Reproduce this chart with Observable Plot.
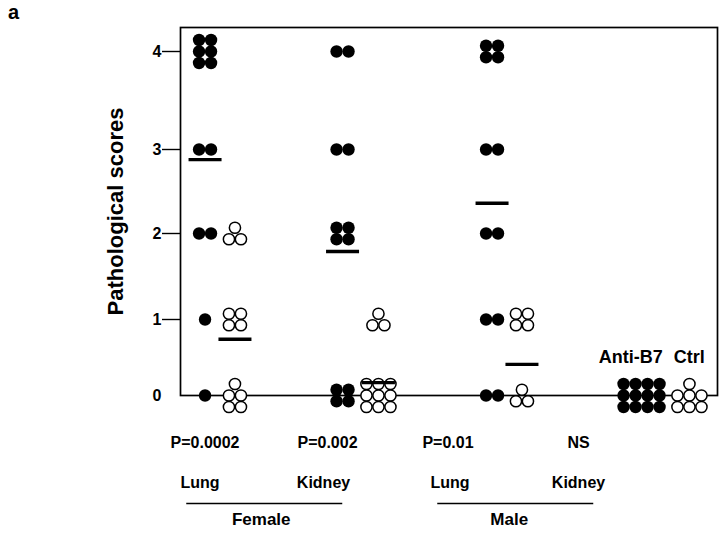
<!DOCTYPE html>
<html>
<head>
<meta charset="utf-8">
<script src="https://cdn.jsdelivr.net/npm/d3@7"></script>
<script src="https://cdn.jsdelivr.net/npm/@observablehq/plot@0.6"></script>
<style>
  html, body { margin: 0; padding: 0; background: #fff; }
  #chart { width: 720px; height: 534px; }
</style>
</head>
<body>
<div id="chart"></div>
<script>
// ---------- data ----------
const groups = ["Female Lung", "Female Kidney", "Male Lung", "Male Kidney"];
const scores = [0, 1, 2, 3, 4];
// number of animals at each score 0..4
const antiB7Counts = [
  [1, 1, 2, 2, 6],
  [4, 0, 4, 2, 2],
  [2, 2, 2, 2, 4],
  [12, 0, 0, 0, 0]
];
const ctrlCounts = [
  [5, 4, 3, 0, 0],
  [9, 3, 0, 0, 0],
  [3, 4, 0, 0, 0],
  [7, 0, 0, 0, 0]
];
// mean bars as drawn
const antiB7Means = [2.88, 1.79, 2.36, null];
const ctrlMeans = [0.74, 0.17, 0.41, null];
const pLabels = ["P=0.0002", "P=0.002", "P=0.01", "NS"];
const organLabels = ["Lung", "Kidney", "Lung", "Kidney"];
const sexLabels = ["Female", "Male"];
const treatmentLabels = ["Anti-B7", "Ctrl"];
const yTicks = [0, 1, 2, 3, 4];

// ---------- scale warps (the printed axis is slightly uneven) ----------
const yWarp = d3.scaleLinear().domain([0, 1, 2, 3, 4]).range([0, 76 / 86, 162 / 86, 246 / 86, 4]);
const xWarp = d3.scaleLinear().domain([0, 1, 2, 3]).range([0, 140.5 / 148.5, 287 / 148.5, 3]);

// ---------- layout helpers ----------
const sx = 12, sy = 11.5, gap = 5.5, rFill = 6.2, rOpen = 5.6;
const colsFor = n => n <= 6 ? 2 : n <= 9 ? 3 : 4;
function cells(n) {
  const c = colsFor(n);
  const rows = Math.ceil(n / c);
  const rem = n - (rows - 1) * c;
  const out = [];
  for (let r = 0; r < rows; r++) {
    const cnt = r === 0 ? rem : c;
    for (let j = 0; j < cnt; j++) {
      out.push({ox: (j - (cnt - 1) / 2) * sx, oy: (r - (rows - 1) / 2) * sy});
    }
  }
  return out;
}
const clusterWidth = counts => {
  const maxRow = Math.max(...counts.map(n => n === 0 ? 0 : Math.min(n, colsFor(n))));
  return (maxRow - 1) * sx + 2 * rFill;
};
const offsets = groups.map((g, i) => {
  const sep = (clusterWidth(antiB7Counts[i]) + clusterWidth(ctrlCounts[i])) / 2 + gap;
  return {anti: -sep / 2, ctrl: sep / 2, antiW: clusterWidth(antiB7Counts[i]), ctrlW: clusterWidth(ctrlCounts[i])};
});

const dotsData = [];
groups.forEach((g, gi) => {
  [["anti", antiB7Counts], ["ctrl", ctrlCounts]].forEach(([trt, counts]) => {
    scores.forEach((s, si) => {
      const n = counts[gi][si];
      if (!n) return;
      cells(n).forEach(c => dotsData.push({
        g: gi, score: s, trt,
        dx: +(offsets[gi][trt] + c.ox).toFixed(2),
        dy: +c.oy.toFixed(2)
      }));
    });
  });
});

// group dots by pixel offset so each mark gets constant dx/dy
const byOffset = d3.group(dotsData, d => `${d.trt}|${d.dx}|${d.dy}`);
const dotMarks = [];
for (const [key, arr] of byOffset) {
  const {trt, dx, dy} = arr[0];
  dotMarks.push(Plot.dot(arr, {
    x: "g", y: "score", dx, dy,
    r: trt === "anti" ? rFill : rOpen,
    fill: trt === "anti" ? "black" : "white",
    stroke: trt === "anti" ? "none" : "black",
    strokeWidth: 1.5
  }));
}

const rectSymbol = (w, h) => ({
  draw(ctx) {
    ctx.moveTo(-w / 2, -h / 2); ctx.lineTo(w / 2, -h / 2);
    ctx.lineTo(w / 2, h / 2); ctx.lineTo(-w / 2, h / 2); ctx.closePath();
  }
});
const meanBar = rectSymbol(33, 3.4);
const underline = rectSymbol(156, 1.4);

const meanMarks = [];
groups.forEach((g, gi) => {
  [["anti", antiB7Means], ["ctrl", ctrlMeans]].forEach(([trt, means]) => {
    if (means[gi] == null) return;
    meanMarks.push(Plot.dot([{g: gi, m: means[gi]}], {
      x: "g", y: "m", dx: offsets[gi][trt], symbol: meanBar, r: 3, fill: "black", stroke: "none"
    }));
  });
});

const bold = {fontWeight: "bold"};
const mk = 3; // male kidney index

// label placement shifts (px) relative to each group's centre
const pShift = [-15, -33, -59, -87];
const organShift = [-20, -37, -57, -87];
const sexLineShift = [-26, -71];
const sexTextShift = [-29, -77];

const labelMarks = [];
groups.forEach((g, i) => {
  labelMarks.push(Plot.text([{g: i, t: pLabels[i]}], {x: "g", text: "t", frameAnchor: "bottom", dx: pShift[i], dy: 52, fontSize: 16, ...bold}));
  labelMarks.push(Plot.text([{g: i, t: organLabels[i]}], {x: "g", text: "t", frameAnchor: "bottom", dx: organShift[i], dy: 92, fontSize: 16, ...bold}));
});
sexLabels.forEach((t, i) => {
  labelMarks.push(Plot.dot([{g: 2 * i + 0.5}], {x: "g", frameAnchor: "bottom", dx: sexLineShift[i], dy: 108, symbol: underline, r: 3, fill: "black", stroke: "none"}));
  labelMarks.push(Plot.text([{g: 2 * i + 0.5, t}], {x: "g", text: "t", frameAnchor: "bottom", dx: sexTextShift[i], dy: 129, fontSize: 17, ...bold}));
});

const chart = Plot.plot({
  width: 720,
  height: 534,
  marginLeft: 180,
  marginRight: 3,
  marginTop: 27,
  marginBottom: 139,
  style: {fontFamily: "'Liberation Sans', Arial, Helvetica, sans-serif", background: "white", color: "black"},
  x: {type: "linear", domain: [0, 3], range: [219.5, 665], transform: xWarp, axis: null},
  y: {type: "linear", domain: [0, 4], range: [395, 51], transform: yWarp, axis: null},
  marks: [
    Plot.axisY({ticks: yTicks.filter(t => t > 0).map(yWarp), tickFormat: d => String(Math.round(yWarp.invert(d))), tickSize: 18, tickPadding: 1, strokeWidth: 1.4, fontSize: 16, fontWeight: "bold", label: null}),
    Plot.axisY({ticks: [0].map(yWarp), tickFormat: d => String(Math.round(yWarp.invert(d))), tickSize: 0, tickPadding: 19, fontSize: 16, fontWeight: "bold", label: null}),
    Plot.frame({strokeWidth: 1.7}),
    ...dotMarks,
    ...meanMarks,
    Plot.text(["Pathological scores"], {frameAnchor: "left", textAnchor: "middle", rotate: -90, dx: -65, fontSize: 22, ...bold}),
    Plot.text(["a"], {frameAnchor: "top-left", textAnchor: "middle", lineAnchor: "middle", dx: -167, dy: -15, fontSize: 20, ...bold}),
    ...labelMarks,
    Plot.text([{g: mk, y: 0.5, t: treatmentLabels[0]}], {x: "g", y: "y", text: "t", textAnchor: "end", dx: offsets[mk].anti + offsets[mk].antiW / 2 - 3, fontSize: 18, ...bold}),
    Plot.text([{g: mk, y: 0.5, t: treatmentLabels[1]}], {x: "g", y: "y", text: "t", textAnchor: "end", dx: offsets[mk].ctrl + offsets[mk].ctrlW / 2 - 3, fontSize: 18, ...bold})
  ]
});
document.getElementById("chart").appendChild(chart);
</script>
</body>
</html>
